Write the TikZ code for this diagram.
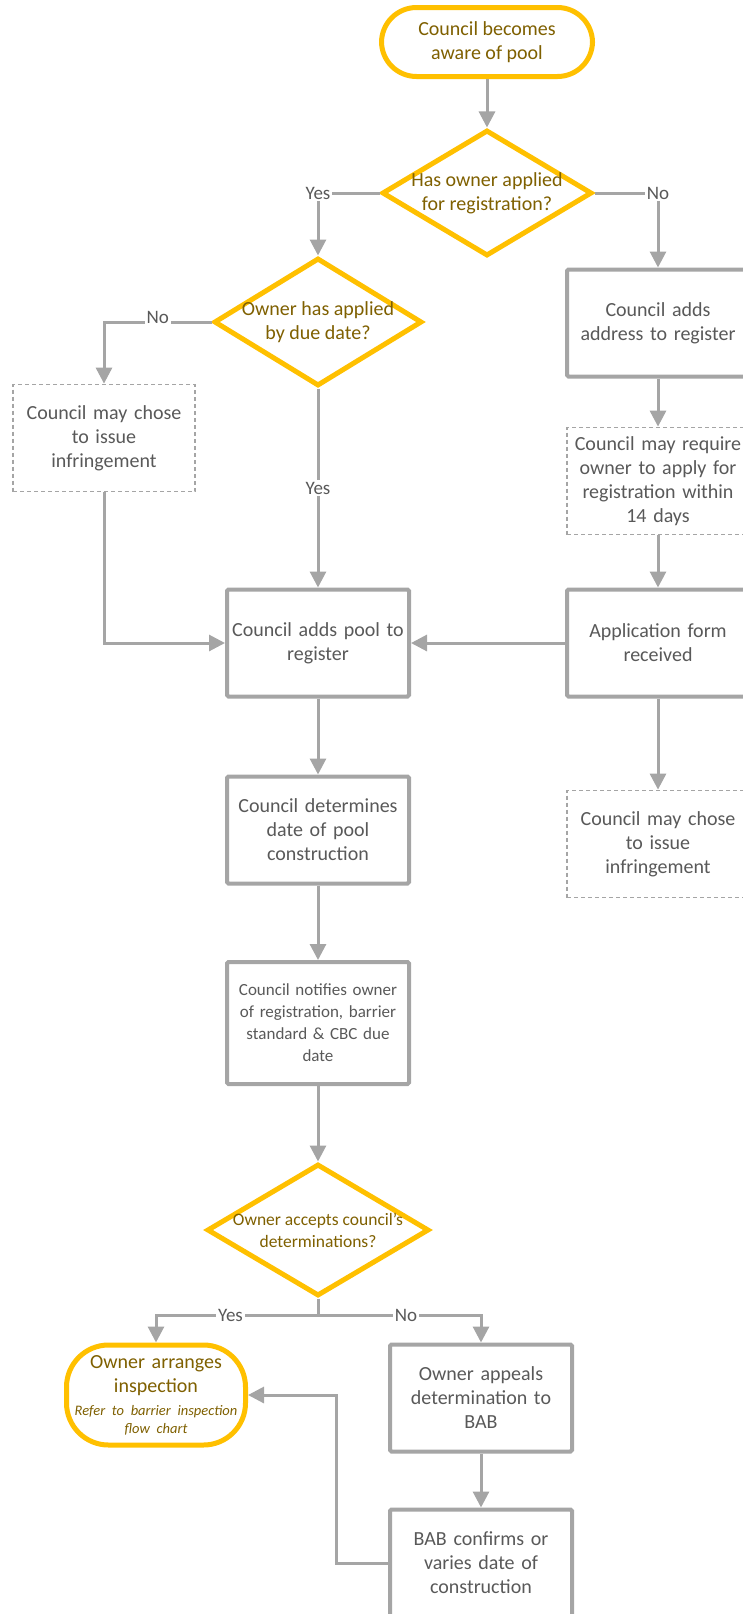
\documentclass[tikz,border=0pt]{standalone}
\usepackage{fontspec}
\setmainfont{Carlito}
\usepackage{tikz}
\usetikzlibrary{shapes.geometric,arrows.meta,positioning}
\definecolor{boxgrey}{HTML}{A5A5A5}
\definecolor{textgrey}{HTML}{595959}
\definecolor{poolgold}{HTML}{FFC000}
\definecolor{golddark}{HTML}{7F6000}
\tikzstyle{process}=[draw=boxgrey, line width=4pt, rounded corners=1.5pt, fill=white, text=textgrey,
    align=center, text width=176pt, minimum width=182pt, minimum height=107pt, inner sep=2pt,
    font=\fontsize{20}{24}\selectfont]
\tikzstyle{optional}=[process, line width=1.8pt, dash pattern=on 4pt off 3pt, rounded corners=0pt]
\tikzstyle{terminal}=[draw=poolgold, line width=5pt, fill=white, text=golddark, align=center,
    inner sep=2pt, font=\fontsize{20}{24}\selectfont]
\tikzstyle{decision}=[diamond, draw=poolgold, line width=5pt, fill=white, inner sep=0pt]
\tikzstyle{dectext}=[text=golddark, align=center, font=\fontsize{20}{24}\selectfont]
\tikzstyle{flow}=[draw=boxgrey, line width=3pt, -{Triangle[length=16pt,width=16pt]}]
\tikzstyle{answer}=[fill=white, inner sep=2pt, text=textgrey, font=\fontsize{19}{22}\selectfont]
\begin{document}
\begin{tikzpicture}[x=1pt, y=-1pt]

\useasboundingbox (0,0) rectangle (743,1614);
\clip (0,0) rectangle (743,1614);

% top
\node[terminal, rounded corners=35pt, minimum width=211pt, minimum height=69pt] (aware) at (487,42)
    {Council becomes\\aware of pool};
\node[decision, minimum width=210pt, minimum height=126pt,
    label={[dectext]center:{Has owner applied\\for registration?}}] (applied) at (487,193) {};

% left branch
\node[decision, minimum width=208pt, minimum height=128pt,
    label={[dectext]center:{Owner has applied\\by due date?}}] (duedate) at (318,322) {};
\node[optional] (fineleft) at (104,438) {Council may chose\\to issue\\infringement};
\node[process] (pool) at (318,643) {Council adds pool to\\register};

% right branch
\node[process] (address) at (658,323) {Council adds\\address to register};
\node[optional] (require) at (658,481) {Council may require\\owner to apply for\\registration within\\14 days};
\node[process] (form) at (658,643) {Application form\\received};
\node[optional] (fineright) at (658,844) {Council may chose\\to issue\\infringement};

% middle column
\node[process] (construct) at (318,830) {Council determines\\date of pool\\construction};
\node[process, minimum height=122pt, font=\fontsize{17}{22}\selectfont] (notify) at (318,1023)
    {Council notifies owner\\of registration, barrier\\standard \& CBC due\\date};
\node[decision, minimum width=222pt, minimum height=132pt,
    label={[dectext, font=\fontsize{17.5}{22}\selectfont]center:{Owner accepts council's\\determinations?}}] (accepts) at (318,1230) {};

% bottom
\node[terminal, rounded corners=42pt, text width=175pt, minimum width=179pt, minimum height=100pt] (inspect) at (156,1395)
    {Owner arranges\\inspection\\[5pt]{\itshape\fontsize{14.5}{18}\selectfont Refer to barrier inspection\\flow chart\par}};
\node[process] (appeal) at (481,1398) {Owner appeals\\determination to\\BAB};
\node[process] (bab) at (481,1563) {BAB confirms or\\varies date of\\construction};

\coordinate (split) at (318,1315);
\coordinate (back) at (336,1563);

% connectors
\draw[flow] (aware) -- (applied);
\draw[flow] (applied.west) -| node[answer, pos=0.5]{Yes} (duedate.north);
\draw[flow] (applied.east) -| node[answer, pos=0.5]{No} (address.north);
\draw[flow] (duedate.west) -| node[answer, pos=0.25, yshift=5pt]{No} (fineleft.north);
\draw[flow] (duedate.south) -- node[answer]{Yes} (pool.north);
\draw[flow] (fineleft.south) |- (pool.west);
\draw[flow] (address) -- (require);
\draw[flow] (require) -- (form);
\draw[flow] (form) -- (pool);
\draw[flow] (form) -- (fineright);
\draw[flow] (pool) -- (construct);
\draw[flow] (construct) -- (notify);
\draw[flow] (notify) -- (accepts);
\draw[flow] (accepts.south) -- (split) -| node[answer, pos=0.27]{Yes} (inspect.north);
\draw[flow] (split) -| node[answer, pos=0.27]{No} (appeal.north);
\draw[flow] (appeal) -- (bab);
\draw[flow] (bab.west) -- (back) |- (inspect.east);

\end{tikzpicture}
\end{document}
